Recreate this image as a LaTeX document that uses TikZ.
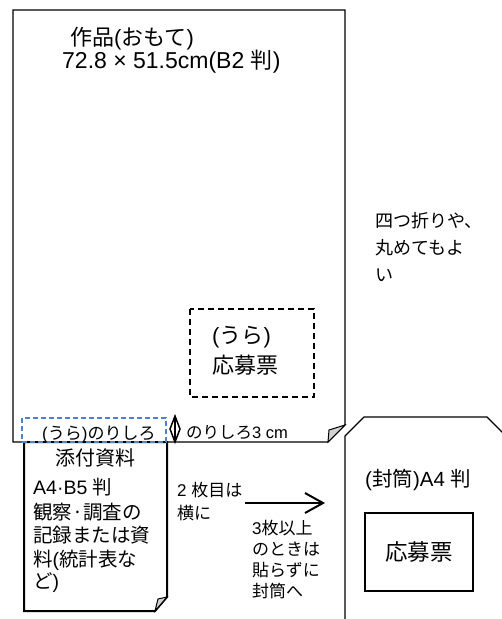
\documentclass[tikz,border=0pt]{standalone}
\usepackage{fontspec}
\setmainfont{Noto Sans CJK JP}
\newfontfamily\latf{Liberation Sans}
\newcommand\mylat[1]{{\latf #1}}
\begin{document}
\begin{tikzpicture}[x=1pt,y=-1pt,
  txt/.style={anchor=west,inner sep=0pt},
  paper/.style={draw=black,line width=1.3pt,line join=miter},
  flap/.style={draw=black,fill=gray!35,line width=1pt},
  fs/.style={font=\fontsize{#1}{#1}\selectfont}]
\useasboundingbox (0,0) rectangle (502,619);
% main sheet
\coordinate (mA) at (328,442);
\coordinate (mB) at (345,425);
\draw[paper] (mA) -- (13,442) -- (13,10) -- (345,10) -- (mB) -- cycle;
\draw[flap] (mA) -- (329,430) -- (mB) -- cycle;
% attachment sheet
\coordinate (aA) at (155,611);
\coordinate (aB) at (167,597);
\draw[paper,line width=2pt] (aB) -- (167,442) -- (24,442) -- (24,611) -- (aA) -- cycle;
\draw[flap] (aA) -- (158,599) -- (aB) -- cycle;
% glue area
\draw[draw={rgb,255:red,80;green,130;blue,200},line width=1.3pt,dash pattern=on 5pt off 3pt] (22,418) rectangle (166,442);
% marker
\draw[line width=1.5pt] (175,416) -- (170,429) -- (175,442) -- (180,429) -- cycle;
\draw[line width=1.5pt] (175,416) -- (175,442);
% back application dashed box
\draw[line width=1.6pt,dash pattern=on 6pt off 4pt] (190,309) rectangle (314,397);
% envelope
\draw[paper] (345,625) -- (345,436) -- (364,417) -- (487,417) -- (504,434);
\draw[paper,line width=1.6pt] (365,513) rectangle (473,591);
% arrow
\coordinate (r1) at (245,503);
\coordinate (r2) at (323,503);
\draw[line width=2pt] (r1) -- (r2);
\draw[line width=2pt,line join=miter] (305,493) -- (r2) -- (305,513);
% texts
\node[txt,fs=22] (t1) at (70,39) {作品\mylat{(}おもて\mylat{)}};
\node[txt,fs=23] (t2) at (62,62) {\mylat{72.8 × 51.5cm(B2 }{\fontsize{22}{22}\selectfont 判}\mylat{)}};
\node[txt,fs=18] (r1t) at (375,221) {四つ折りや、};
\node[txt,fs=18] (r2t) at (375,248) {丸めてもよ};
\node[txt,fs=18] (r3t) at (375,275) {い};
\node[txt,fs=22] (u1) at (212,337) {\mylat{(}うら\mylat{)}};
\node[txt,fs=22] (u2) at (212,365) {応募票};
\node[txt,fs=17] (g1) at (42,435) {\mylat{(}うら\mylat{)}のりしろ};
\node[txt,fs=16.5] (g2) at (186,433) {のりしろ\mylat{3 cm}};
\node[fs=20,inner sep=0pt] (a0) at (96,458) {添付資料};
\node[txt,fs=19.5] (a1) at (33,487) {\mylat{A4·B5 }判};
\node[txt,fs=19.5] (a2) at (33,512) {観察·調査の};
\node[txt,fs=19.5] (a3) at (33,535) {記録または資};
\node[txt,fs=19.5] (a4) at (33,560) {料\mylat{(}統計表な};
\node[txt,fs=19.5] (a5) at (33,583) {ど\mylat{)}};
\node[txt,fs=17] (s1) at (177,490) {\mylat{2 }枚目は};
\node[txt,fs=17] (s2) at (177,513) {横に};
\node[txt,fs=17] (k1) at (252,528) {\mylat{3}枚以上};
\node[txt,fs=17] (k2) at (252,549) {のときは};
\node[txt,fs=17] (k3) at (252,570) {貼らずに};
\node[txt,fs=17] (k4) at (252,591) {封筒へ};
\node[txt,fs=20.5] (e1) at (365,480) {\mylat{(}封筒\mylat{)A4 }判};
\node[fs=22.5,inner sep=0pt] (e2) at (419,552) {応募票};
\end{tikzpicture}
\end{document}
